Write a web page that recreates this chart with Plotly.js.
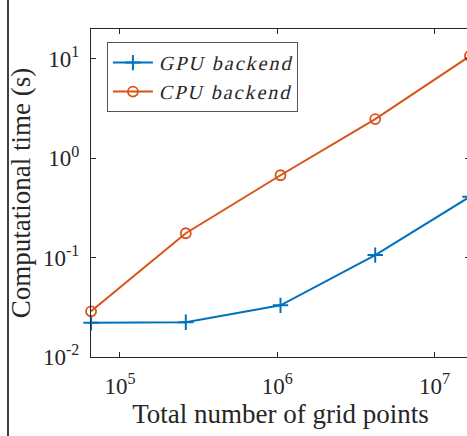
<!DOCTYPE html>
<html>
<head>
<meta charset="utf-8">
<script src="https://cdn.plot.ly/plotly-3.0.1.min.js"></script>
<style>
  html, body { margin: 0; padding: 0; background: #ffffff; overflow: hidden; }
  #chart { width: 470px; height: 436px; }
  /* slanted serif for the legend labels */
  #chart .legendtext {
    transform: skewX(-13deg);
    transform-box: fill-box;
    transform-origin: 50% 100%;
  }
</style>
</head>
<body>
<div id="chart"></div>
<script>
// Grid sizes (256^2 ... 4096^2) and measured run times in seconds
const gridPoints = [65536, 262144, 1048576, 4194304, 16777216];
const gpuTime = [0.0221, 0.0224, 0.0331, 0.106, 0.41];
const cpuTime = [0.0288, 0.176, 0.675, 2.48, 10.7];

const seriesNames = ['GPU backend', 'CPU backend'];
const xTickVals = [1e5, 1e6, 1e7];
const xTickText = ['10<sup>5</sup>', '10<sup>6</sup>', '10<sup>7</sup>'];
const yTickVals = [1e-2, 1e-1, 1e0, 1e1];
const yTickText = ['10<sup>-2</sup>', '10<sup>-1</sup>', '10<sup>0</sup>', '10<sup>1</sup>'];

const serif = '"Liberation Serif", "Times New Roman", serif';
const axisColor = '#262626';

const legendLabel = name => '<span style="letter-spacing:2px">' + name + '</span>';

const traces = [
  {
    x: gridPoints, y: gpuTime, name: legendLabel(seriesNames[0]),
    type: 'scatter', mode: 'lines+markers', cliponaxis: false,
    line: { color: '#0072BD', width: 2 },
    marker: { symbol: 'cross-thin-open', size: 11, line: { color: '#0072BD', width: 2 } }
  },
  {
    x: gridPoints, y: cpuTime, name: legendLabel(seriesNames[1]),
    type: 'scatter', mode: 'lines+markers', cliponaxis: false,
    line: { color: '#D95319', width: 2 },
    marker: { symbol: 'circle-open', size: 10, line: { color: '#D95319', width: 1.8 } }
  }
];

const axisCommon = {
  type: 'log',
  showgrid: false, zeroline: false,
  showline: true, linecolor: axisColor, linewidth: 1,
  mirror: 'ticks', ticks: 'inside', ticklen: 5, tickwidth: 1, tickcolor: axisColor,
  tickfont: { family: serif, size: 23, color: axisColor },
  automargin: false
};

const xMin = Math.log10(gridPoints[0]);
const xMax = Math.log10(gridPoints[gridPoints.length - 1]);

const layout = {
  width: 470, height: 436,
  margin: { l: 91, r: 0, t: 29, b: 79 },
  paper_bgcolor: '#ffffff', plot_bgcolor: '#ffffff',
  showlegend: true,
  xaxis: Object.assign({}, axisCommon, {
    range: [xMin - 0.0005, xMax + 0.0005],
    tickvals: xTickVals, ticktext: xTickText,
    ticklabelstandoff: 8,
    title: { text: 'Total number of grid points', font: { family: serif, size: 27, color: axisColor }, standoff: 6 }
  }),
  yaxis: Object.assign({}, axisCommon, {
    range: [-2, Math.log10(20)],
    tickvals: yTickVals, ticktext: yTickText,
    ticklabelstandoff: 6,
    title: { text: 'Computational time (s)', font: { family: serif, size: 27, color: axisColor }, standoff: 4 }
  }),
  legend: {
    x: 0.042, y: 0.96, xanchor: 'left', yanchor: 'top',
    bgcolor: '#ffffff', bordercolor: '#555555', borderwidth: 1,
    font: { family: serif, size: 20, color: axisColor },
    itemwidth: 40,
    tracegroupgap: 0
  },
  shapes: [
    {
      type: 'line', xref: 'paper', yref: 'paper',
      x0: -0.219, x1: -0.219, y0: -0.3, y1: 1.15,
      line: { color: '#000000', width: 1.5 }
    }
  ]
};

Plotly.newPlot('chart', traces, layout, { displayModeBar: false, staticPlot: true });
</script>
</body>
</html>
